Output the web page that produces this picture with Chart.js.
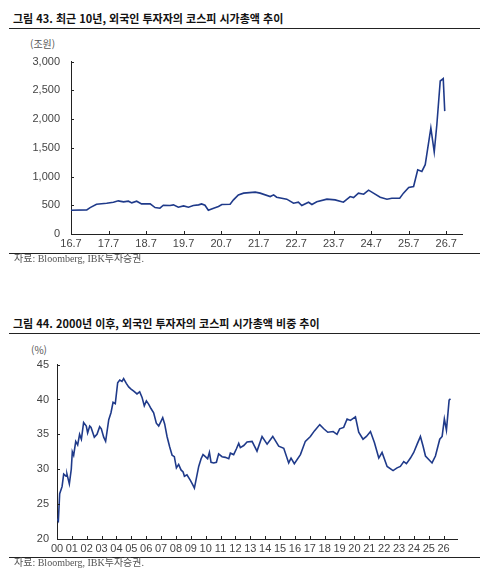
<!DOCTYPE html>
<html lang="ko">
<head>
<meta charset="utf-8">
<script src="https://cdn.jsdelivr.net/npm/chart.js@4"></script>
<style>
  body { margin: 0; width: 490px; height: 579px; background: #fff; position: relative; font-family: "Noto Sans CJK KR", sans-serif; overflow: hidden; }
  .title { position: absolute; left: 13px; font-size: 11px; line-height: 14px; font-weight: bold; color: #111; white-space: nowrap; }
  .rule { position: absolute; left: 9px; width: 471px; height: 1px; background: #222; }
  .unit { position: absolute; font-size: 10px; line-height: 14px; color: #555; }
  .src { position: absolute; left: 14px; font-size: 10px; line-height: 14px; color: #555; font-family: "Liberation Serif", "Noto Sans CJK KR", serif; white-space: nowrap; }
  .box { position: absolute; left: 0; width: 480px; }
</style>
</head>
<body>
<div class="title" style="top:11px">그림 43. 최근 10년, 외국인 투자자의 코스피 시가총액 추이</div>
<div class="rule" style="top:28px"></div>
<div class="unit" style="left:30px;top:37px">(조원)</div>
<div class="box" style="top:44px;height:214px"><canvas id="capChart"></canvas></div>
<div class="rule" style="top:253px"></div>
<div class="src" style="top:252px">자료: Bloomberg, IBK투자증권.</div>

<div class="title" style="top:316px">그림 44. 2000년 이후, 외국인 투자자의 코스피 시가총액 비중 추이</div>
<div class="rule" style="top:333px"></div>
<div class="unit" style="left:31px;top:343px">(%)</div>
<div class="box" style="top:350px;height:213px"><canvas id="shareChart"></canvas></div>
<div class="rule" style="top:557px"></div>
<div class="src" style="top:556px">자료: Bloomberg, IBK투자증권.</div>

<script>
// 그림 43: 외국인 보유 시가총액 (조원), x = 16년 7월부터 경과 연수
const capYears = [0, 0.42, 0.51, 0.68, 0.95, 1.13, 1.26, 1.40, 1.53, 1.62, 1.75, 1.88, 2.11, 2.24, 2.37, 2.46,
  2.64, 2.73, 2.86, 3.00, 3.13, 3.26, 3.40, 3.48, 3.57, 3.66, 3.80, 3.93, 4.02, 4.24, 4.33, 4.46, 4.60, 4.91,
  5.04, 5.31, 5.40, 5.48, 5.75, 5.93, 6.06, 6.15, 6.33, 6.42, 6.55, 6.82, 7.04, 7.26, 7.44, 7.53, 7.66, 7.80,
  7.93, 8.06, 8.24, 8.42, 8.55, 8.76, 8.86, 9.00, 9.13, 9.24, 9.35, 9.44, 9.59, 9.68, 9.75, 9.84, 9.92, 9.96];
const capValues = [414, 420, 460, 518, 536, 553, 577, 560, 571, 542, 571, 524, 524, 460, 449, 501,
  495, 507, 466, 489, 466, 495, 507, 524, 501, 414, 449, 478, 513, 518, 594, 681, 711, 728,
  711, 652, 681, 641, 606, 536, 553, 495, 553, 513, 560, 606, 594, 553, 652, 635, 711, 693,
  763, 711, 641, 606, 623, 623, 711, 810, 827, 1118, 1089, 1206, 1846, 1427, 1905, 2662, 2703, 2138];
const capTickPos = [0, 1, 2, 3, 4, 5, 6, 7, 8, 9, 10];
const capTickLabels = ['16.7', '17.7', '18.7', '19.7', '20.7', '21.7', '22.7', '23.7', '24.7', '25.7', '26.7'];

// 그림 44: 외국인 시가총액 비중 (%), x = 2000년부터 경과 연수
const shareYears = [0, 0.09, 0.18, 0.34, 0.45, 0.61, 0.67, 0.83, 0.96, 1.03, 1.12, 1.26, 1.39, 1.52, 1.64, 1.79,
  1.97, 2.06, 2.20, 2.29, 2.51, 2.69, 2.87, 2.98, 3.14, 3.27, 3.48, 3.63, 3.77, 3.92, 4.08, 4.22, 4.37, 4.48,
  4.66, 4.82, 4.98, 5.16, 5.38, 5.56, 5.72, 5.87, 6.01, 6.17, 6.32, 6.50, 6.68, 6.84, 7.00, 7.11, 7.24, 7.40,
  7.58, 7.74, 7.89, 8.03, 8.18, 8.34, 8.48, 8.57, 8.74, 8.97, 9.15, 9.24, 9.37, 9.53, 9.69, 9.82, 9.98, 10.13,
  10.25, 10.36, 10.54, 10.72, 10.87, 11.10, 11.32, 11.55, 11.66, 11.88, 12.06, 12.22, 12.33, 12.56, 12.78,
  13.12, 13.45, 13.79, 14.13, 14.51, 14.91, 15.25, 15.58, 15.74, 15.96, 16.37, 16.70, 17.04, 17.31, 17.67,
  17.94, 18.21, 18.57, 18.83, 19.01, 19.28, 19.51, 19.73, 20.07, 20.29, 20.58, 20.81, 21.08, 21.35, 21.64,
  21.86, 22.20, 22.60, 22.87, 23.09, 23.32, 23.50, 23.77, 23.99, 24.22, 24.44, 24.62, 24.78, 25.00, 25.22,
  25.45, 25.74, 25.90, 26.05, 26.19, 26.37, 26.46];
const shareValues = [22.9, 22.6, 26.5, 27.5, 29.3, 29.0, 29.3, 27.9, 30.0, 32.5, 32.0, 34.0, 33.5, 35.0, 34.3, 36.7,
  36.2, 35.2, 36.2, 36.0, 34.6, 35.0, 36.1, 35.8, 34.6, 34.0, 37.1, 38.1, 39.6, 39.4, 42.4, 42.8, 42.6, 43.0,
  42.3, 41.8, 41.5, 41.2, 40.8, 41.1, 40.3, 39.1, 39.8, 39.3, 38.7, 38.1, 36.6, 36.2, 36.9, 37.4, 36.5, 34.7,
  33.2, 32.0, 31.8, 30.2, 30.7, 29.9, 29.6, 29.0, 29.2, 28.4, 27.7, 27.3, 28.7, 30.4, 31.5, 32.1, 31.8, 31.5,
  32.4, 31.0, 30.9, 31.0, 32.2, 31.8, 31.7, 31.5, 32.3, 32.1, 32.9, 33.7, 33.1, 33.4, 33.9,
  34.0, 32.6, 34.7, 33.6, 34.7, 33.3, 33.0, 30.9, 31.6, 30.8, 32.1, 34.0, 34.7, 35.5, 36.4,
  35.8, 35.3, 35.4, 35.0, 35.8, 36.0, 37.2, 37.0, 37.5, 35.3, 34.3, 34.7, 35.4, 33.8, 31.6,
  32.4, 30.4, 29.8, 30.2, 30.4, 31.1, 30.8, 31.6, 32.4, 33.6, 34.7, 33.3, 31.9, 31.4, 30.9,
  31.9, 34.3, 34.7, 37.2, 35.6, 39.9, 40.1];
const shareTickPos = [0, 1, 2, 3, 4, 5, 6, 7, 8, 9, 10, 11, 12, 13, 14, 15, 16, 17, 18, 19, 20, 21, 22, 23, 24, 25, 26];
const shareTickLabels = ['00', '01', '02', '03', '04', '05', '06', '07', '08', '09', '10', '11', '12', '13',
  '14', '15', '16', '17', '18', '19', '20', '21', '22', '23', '24', '25', '26'];

const lineColor = '#1f3a8a';
const tickFont = { family: '"Liberation Sans", Arial, sans-serif', size: 11 };

// 축 안쪽으로 짧은 눈금 그리기
const innerTicks = {
  id: 'innerTicks',
  afterDatasetsDraw(chart) {
    const { ctx, chartArea: a } = chart;
    const x = chart.scales.x, y = chart.scales.y;
    ctx.save();
    ctx.strokeStyle = '#222';
    ctx.lineWidth = 1;
    ctx.beginPath();
    x.ticks.forEach((t, i) => {
      const px = Math.round(x.getPixelForTick(i)) + 0.5;
      ctx.moveTo(px, a.bottom);
      ctx.lineTo(px, a.bottom - 3);
    });
    y.ticks.forEach((t, i) => {
      const py = Math.round(y.getPixelForTick(i)) + 0.5;
      ctx.moveTo(a.left, py);
      ctx.lineTo(a.left + 3, py);
    });
    ctx.stroke();
    ctx.restore();
  }
};

function makeChart(id, xs, ys, opt) {
  const points = xs.map((v, i) => ({ x: v, y: ys[i] }));
  return new Chart(document.getElementById(id), {
    type: 'line',
    data: { datasets: [{ data: points, borderColor: lineColor, borderWidth: 1.6, pointRadius: 0, tension: 0, fill: false }] },
    options: {
      responsive: true,
      maintainAspectRatio: false,
      animation: false,
      layout: { padding: { top: 0, right: opt.padRight, left: 0, bottom: 0 } },
      plugins: { legend: { display: false }, tooltip: { enabled: false } },
      scales: {
        x: {
          type: 'linear',
          min: 0,
          max: opt.xMax,
          grid: { display: false, drawTicks: false },
          border: { display: true, color: '#222', width: 1 },
          afterFit: s => { s.height = 24; },
          afterBuildTicks: s => { s.ticks = opt.tickPos.map(v => ({ value: v })); },
          ticks: {
            includeBounds: false,
            autoSkip: false,
            maxRotation: 0,
            padding: 3,
            color: '#444',
            font: tickFont,
            callback: (v, i) => opt.tickLabels[i]
          }
        },
        y: {
          min: opt.yMin,
          max: opt.yMax,
          grid: { display: false, drawTicks: false },
          border: { display: true, color: '#222', width: 1 },
          afterFit: s => { s.width = opt.yWidth; },
          ticks: { stepSize: opt.yStep, padding: opt.yPad, color: '#444', font: tickFont }
        }
      }
    },
    plugins: [innerTicks]
  });
}

makeChart('capChart', capYears, capValues, {
  xMax: 10.42, tickPos: capTickPos, tickLabels: capTickLabels,
  yMin: 0, yMax: 3000, yStep: 500, yWidth: 71, yPad: 11, padRight: 18
});
makeChart('shareChart', shareYears, shareValues, {
  xMax: 26.9, tickPos: shareTickPos, tickLabels: shareTickLabels,
  yMin: 20, yMax: 45, yStep: 5, yWidth: 57, yPad: 8, padRight: 23
});
</script>
</body>
</html>
